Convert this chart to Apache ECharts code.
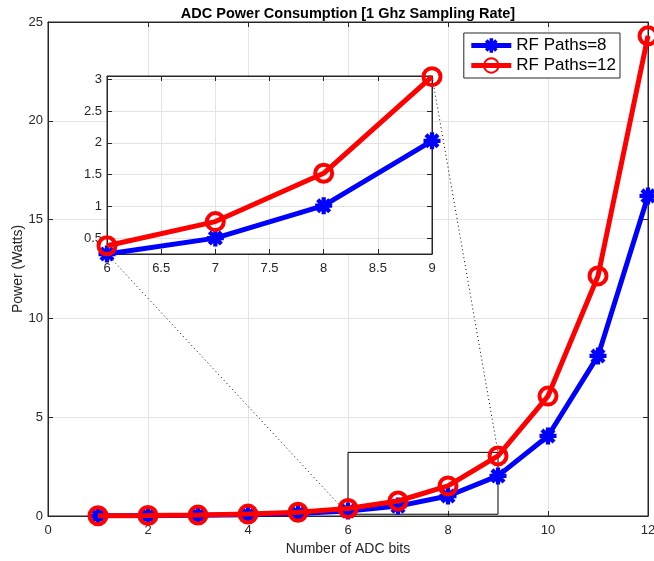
<!DOCTYPE html>
<html>
<head>
<meta charset="utf-8">
<script src="https://cdn.jsdelivr.net/npm/echarts@6/dist/echarts.min.js"></script>
<style>
  html, body { margin: 0; padding: 0; background: #fff; }
  #main { width: 654px; height: 561px; }
</style>
</head>
<body>
<div id="main"></div>
<script>
// data
var bits = [1, 2, 3, 4, 5, 6, 7, 8, 9, 10, 11, 12];
var power8 = [0.008, 0.016, 0.032, 0.063, 0.127, 0.25, 0.5, 1.01, 2.03, 4.05, 8.1, 16.2];
var power12 = [0.012, 0.024, 0.047, 0.095, 0.19, 0.38, 0.76, 1.52, 3.04, 6.07, 12.15, 24.3];
var zoomBits = [6, 9];          // zoomed x range
var zoomBox = [0.09, 3.22];     // rectangle drawn on main axes (y)

var txt = '#262626';
var font = 'Liberation Sans, Arial, sans-serif';

// asterisk marker (4 thick bars)
var star = 'path://M0 7.5L20 7.5L20 12.5L0 12.5Z M7.5 0L12.5 0L12.5 20L7.5 20Z' +
    ' M4.7 1.16L18.84 15.3L15.3 18.84L1.16 4.7Z M1.16 15.3L15.3 1.16L18.84 4.7L4.7 18.84Z';

function pairs(xs, ys, lo, hi) {
    var out = [];
    for (var i = 0; i < xs.length; i++) {
        if (lo == null || (xs[i] >= lo && xs[i] <= hi)) out.push([xs[i], ys[i]]);
    }
    return out;
}

function axisCommon() {
    return {
        axisLine: { show: true, onZero: false, lineStyle: { color: txt, width: 1 } },
        axisTick: { show: true, inside: true, length: 5, lineStyle: { color: txt } },
        axisLabel: { color: txt, fontSize: 13, fontFamily: font },
        splitLine: { show: true, lineStyle: { color: '#e3e3e3', width: 1 } }
    };
}

// mirrored tick-only axis (top / right box ticks)
function mirror(ax, pos) {
    var m = axisCommon();
    m.type = 'value'; m.gridIndex = ax.gridIndex; m.position = pos;
    m.min = ax.min; m.max = ax.max; m.interval = ax.interval; m.splitNumber = ax.splitNumber;
    m.axisLabel = { show: false };
    m.splitLine = { show: false };
    m.z = ax.z;
    return m;
}

function blueSeries(xi, yi, data, name, z) {
    return {
        name: name,
        type: 'line',
        xAxisIndex: xi, yAxisIndex: yi,
        data: data,
        symbol: star,
        symbolSize: 17,
        z: z,
        lineStyle: { color: '#0000ff', width: 5 },
        itemStyle: { color: '#0000ff' }
    };
}

function redSeries(xi, yi, data, name, z) {
    return {
        name: name,
        type: 'line',
        xAxisIndex: xi, yAxisIndex: yi,
        data: data,
        symbol: 'circle',
        symbolSize: 17,
        z: z,
        lineStyle: { color: '#ff0000', width: 5 },
        itemStyle: { color: 'rgba(255,255,255,0)', borderColor: '#ff0000', borderWidth: 4 }
    };
}

var myChart = echarts.init(document.getElementById('main'));

var mainX = axisCommon();
mainX.type = 'value'; mainX.gridIndex = 0; mainX.min = 0; mainX.max = 12; mainX.interval = 2;
mainX.name = 'Number of ADC bits'; mainX.nameLocation = 'middle'; mainX.nameGap = 26;
mainX.nameTextStyle = { color: txt, fontSize: 14, fontFamily: font };
mainX.axisLabel.margin = 8;

var mainY = axisCommon();
mainY.type = 'value'; mainY.gridIndex = 0; mainY.min = 0; mainY.max = 25; mainY.interval = 5;
mainY.name = 'Power (Watts)'; mainY.nameLocation = 'middle'; mainY.nameGap = 23;
mainY.nameMoveOverlap = false;
mainY.nameTextStyle = { color: txt, fontSize: 14, fontFamily: font };
mainY.axisLabel.margin = 5;

var insX = axisCommon();
insX.type = 'value'; insX.gridIndex = 1; insX.min = zoomBits[0]; insX.max = zoomBits[1]; insX.interval = 0.5;
insX.axisLabel.margin = 8; insX.z = 6;

var insY = axisCommon();
insY.type = 'value'; insY.gridIndex = 1; insY.min = 0.25; insY.max = 3.05; insY.splitNumber = 6;
insY.axisLabel.showMinLabel = false; insY.axisLabel.showMaxLabel = false;
insY.axisLabel.margin = 5; insY.z = 6;

var b8 = blueSeries(0, 0, pairs(bits, power8), 'RF Paths=8', 3);
var r12 = redSeries(0, 0, pairs(bits, power12), 'RF Paths=12', 4);
// zoom rectangle on the main axes
r12.markArea = {
    silent: true,
    itemStyle: { color: 'rgba(0,0,0,0)', borderColor: '#000', borderWidth: 1 },
    data: [[{ coord: [zoomBits[0], zoomBox[0]] }, { coord: [zoomBits[1], zoomBox[1]] }]]
};

myChart.setOption({
    animation: false,
    backgroundColor: '#fff',
    title: {
        text: 'ADC Power Consumption [1 Ghz Sampling Rate]',
        left: 343, textAlign: 'center', top: 1,
        textStyle: { color: '#000', fontSize: 14.5, fontWeight: 'bold', fontFamily: font }
    },
    legend: {
        right: 34, top: 33,
        orient: 'vertical',
        backgroundColor: '#fff',
        borderColor: '#262626', borderWidth: 1,
        padding: [4, 4, 4, 5],
        itemGap: 3,
        itemWidth: 40, itemHeight: 18,
        lineStyle: { width: 5 },
        textStyle: { color: '#000', fontSize: 17, fontFamily: font },
        data: ['RF Paths=8', 'RF Paths=12']
    },
    grid: [
        { left: 48, right: 6, top: 22, bottom: 45, outerBoundsMode: 'none', containLabel: false,
          show: true, borderColor: txt, borderWidth: 1, backgroundColor: '#fff' },
        { left: 107, top: 76, width: 325, height: 178, outerBoundsMode: 'none', containLabel: false,
          show: true, borderColor: txt, borderWidth: 1, backgroundColor: '#fff', z: 5 }
    ],
    xAxis: [mainX, insX, mirror(mainX, 'top'), mirror(insX, 'top')],
    yAxis: [mainY, insY, mirror(mainY, 'right'), mirror(insY, 'right')],
    series: [
        b8, r12,
        blueSeries(1, 1, pairs(bits, power8, zoomBits[0], zoomBits[1]), 'RF Paths=8', 10),
        redSeries(1, 1, pairs(bits, power12, zoomBits[0], zoomBits[1]), 'RF Paths=12', 11)
    ]
});

// dotted connectors: inset corners -> zoom rectangle corners
var insBL = myChart.convertToPixel({ gridIndex: 1 }, [6, 0.25]);
var insTR = myChart.convertToPixel({ gridIndex: 1 }, [9, 3.05]);
var boxBL = myChart.convertToPixel({ gridIndex: 0 }, [zoomBits[0], zoomBox[0]]);
var boxTR = myChart.convertToPixel({ gridIndex: 0 }, [zoomBits[1], zoomBox[1]]);
var dotted = { stroke: '#000', lineWidth: 1, lineDash: [1, 3] };
myChart.setOption({
    graphic: [
        { type: 'line', z: 1, silent: true, shape: { x1: insBL[0], y1: insBL[1], x2: boxBL[0], y2: boxBL[1] }, style: dotted },
        { type: 'line', z: 1, silent: true, shape: { x1: insTR[0], y1: insTR[1], x2: boxTR[0], y2: boxTR[1] }, style: dotted }
    ]
});
</script>
</body>
</html>
